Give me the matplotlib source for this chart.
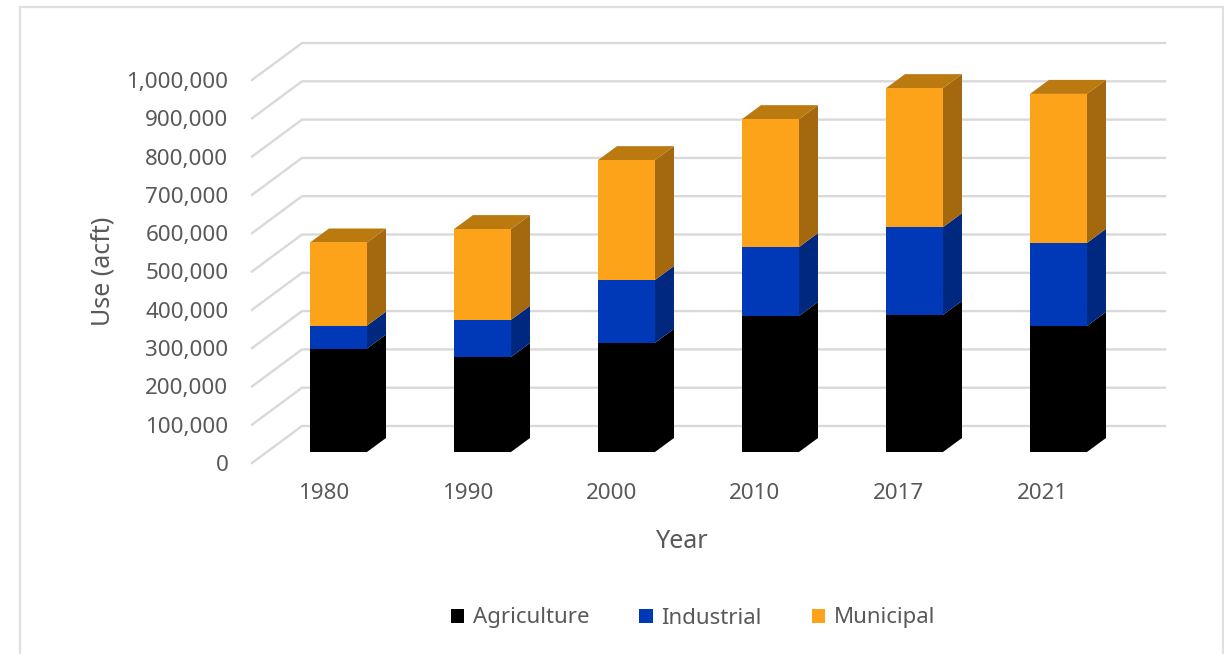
import matplotlib
matplotlib.use("Agg")
import matplotlib.pyplot as plt
from matplotlib.patches import Polygon, Rectangle, Patch

plt.rcParams['font.family'] = ['Noto Sans', 'DejaVu Sans']

years = ['1980', '1990', '2000', '2010', '2017', '2021']
agriculture = [270000, 248000, 285000, 355000, 358000, 329000]
industrial = [60000, 97000, 164000, 180000, 229000, 217000]
municipal = [217000, 237000, 313000, 334000, 363000, 389000]
axis_values = [0, 100000, 200000, 300000, 400000, 500000, 600000, 700000, 800000, 900000, 1000000]

W, H = 1224, 654
PX_Y = 383.0 / 1e6       # pixels per acre-foot
X0, PX_X = 338.5, 144.0  # pixel of category 0, pixels per category
BASE = 452.0             # pixel of the front of the bar base
L, R, B, T = 252, 1165, 465, 43

def to_x(px): return (px - X0) / PX_X
def to_y(px): return (BASE - px) / PX_Y

GREY = '#595959'
GRID = '#D9D9D9'
fig = plt.figure(figsize=(W / 100, H / 100), dpi=100, facecolor='white')
ax = fig.add_axes([L / W, 1 - B / H, (R - L) / W, (B - T) / H])
ax.set_xlim(to_x(L), to_x(R))
ax.set_ylim(to_y(B), to_y(T))
ax.patch.set_visible(False)
for s in ax.spines.values():
    s.set_visible(False)

# outer frame of the picture
fig.add_artist(Rectangle((20 / W, -0.05), (1223 - 20) / W, 1.05 - 7 / H, transform=fig.transFigure,
                         fill=False, edgecolor='#E0E0E0', linewidth=1.6))

# 3-D wall and floor gridlines
back_shift = (BASE - 426) / PX_Y    # back wall relative to the bar front
front_shift = (BASE - 463) / PX_Y   # axis labels relative to the bar front
for v in axis_values:
    yb = v + back_shift
    yf = v + front_shift
    ax.plot([to_x(252), to_x(302), to_x(R)], [yf, yb, yb], color=GRID, lw=1.7,
            solid_joinstyle='miter', clip_on=False, zorder=1)

# 3-D bars
WIDTH = 57 / PX_X
DX = 19 / PX_X
DY = 14 / PX_Y
series = [
    ('Agriculture', agriculture, '#000000', '#000000', '#000000'),
    ('Industrial', industrial, '#0039B8', '#00287F', '#00287F'),
    ('Municipal', municipal, '#FCA31A', '#A4690F', '#BB7A10'),
]
bottoms = [0] * len(years)
for name, vals, front, side, top in series:
    for i, v in enumerate(vals):
        b0 = bottoms[i]
        t0 = b0 + v
        x1 = i - WIDTH / 2
        x2 = i + WIDTH / 2
        ax.add_patch(Polygon([(x2, b0), (x2 + DX, b0 + DY), (x2 + DX, t0 + DY), (x2, t0)],
                             closed=True, facecolor=side, edgecolor='none', zorder=3))
        if name == 'Municipal':
            ax.add_patch(Polygon([(x1, t0), (x1 + DX, t0 + DY), (x2 + DX, t0 + DY), (x2, t0)],
                                 closed=True, facecolor=top, edgecolor='none', zorder=3))
    ax.bar(range(len(years)), vals, width=WIDTH, bottom=bottoms, color=front, zorder=4, linewidth=0)
    bottoms = [a + c for a, c in zip(bottoms, vals)]

# axes text
ax.set_yticks([v + front_shift for v in axis_values])
ax.set_yticklabels([f'{v:,}' for v in axis_values], color=GREY, fontsize=16.1)
ax.set_xticks([to_x(324 + 143.6 * i) for i in range(len(years))])
ax.set_xticklabels(years, color=GREY, fontsize=16.1)
ax.tick_params(axis='y', length=0, pad=17)
ax.tick_params(axis='x', length=0, pad=13)

fig.text(103 / W, 1 - 271 / H, 'Use (acft)', rotation=90, ha='center', va='center', color=GREY, fontsize=18)
fig.text(682 / W, 1 - 542 / H, 'Year', ha='center', va='center', color=GREY, fontsize=18)

handles = [Patch(facecolor=c, label=n) for n, _, c, _, _ in series]
fig.legend(handles=handles, loc='center', bbox_to_anchor=(693 / W, 1 - 618 / H), ncol=3, frameon=False,
           fontsize=16, labelcolor=GREY, handlelength=0.6, handleheight=0.6, handletextpad=0.4,
           columnspacing=2.25, borderpad=0)

fig.savefig('out.png', dpi=100, facecolor='white')
